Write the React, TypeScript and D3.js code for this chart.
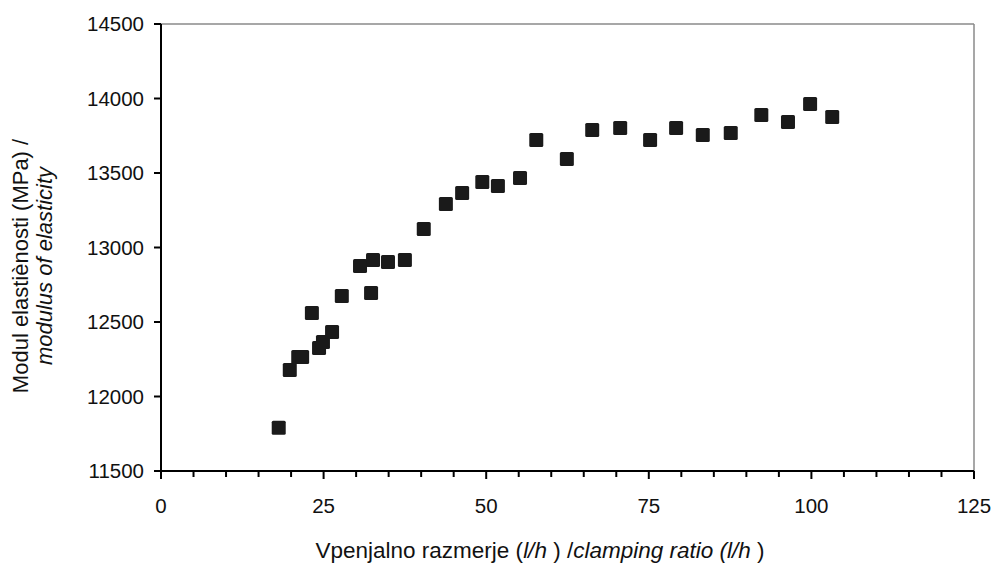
import React from "react";
import * as d3 from "d3";

const clampingRatio = [18.1, 19.8, 21.1, 21.7, 23.2, 24.3, 24.9, 26.3, 27.8, 30.6, 32.3, 32.6, 34.9, 37.5, 40.4, 43.8, 46.3, 49.4, 51.8, 55.2, 57.7, 62.4, 66.3, 70.6, 75.2, 79.2, 83.3, 87.6, 92.3, 96.4, 99.8, 103.2];
const modulus = [11790, 12178, 12265, 12265, 12560, 12325, 12366, 12433, 12674, 12876, 12695, 12916, 12903, 12916, 13124, 13292, 13366, 13440, 13413, 13466, 13721, 13594, 13789, 13802, 13721, 13802, 13755, 13768, 13889, 13842, 13963, 13876];
const xMajorTicks = [0, 25, 50, 75, 100, 125];
const yTicks = [11500, 12000, 12500, 13000, 13500, 14000, 14500];

const W = 996;
const H = 569;
const left = 161;
const right = 974;
const top = 24;
const bottom = 471;
const FONT = "'Liberation Sans', Arial, sans-serif";

export default function App() {
  const x = d3.scaleLinear().domain([0, 125]).range([left, right]);
  const y = d3.scaleLinear().domain([11500, 14500]).range([bottom, top]);
  const minor = d3.range(0, 126, 5).filter((v) => v % 25 !== 0);
  const size = 14;
  return (
    <svg width={W} height={H} style={{ position: "absolute", left: 0, top: 0, background: "#fff" }} fontFamily={FONT}>
      <rect x={0} y={0} width={W} height={H} fill="#fff" />
      {/* frame */}
      <line x1={left} x2={right} y1={top} y2={top} stroke="#8a8a8a" strokeWidth={1.5} />
      <line x1={right} x2={right} y1={top} y2={bottom} stroke="#8a8a8a" strokeWidth={1.5} />
      {/* axes */}
      <line x1={left} x2={right} y1={bottom} y2={bottom} stroke="#000" strokeWidth={2} />
      <line x1={left} x2={left} y1={top} y2={bottom} stroke="#000" strokeWidth={2} />
      {xMajorTicks.map((t) => (
        <g key={"xt" + t}>
          <line x1={x(t)} x2={x(t)} y1={bottom} y2={bottom + 8} stroke="#000" strokeWidth={2} />
          <text x={x(t)} y={bottom + 42} textAnchor="middle" fontSize={20.5} fill="#111">{t}</text>
        </g>
      ))}
      {minor.map((t) => (
        <line key={"xm" + t} x1={x(t)} x2={x(t)} y1={bottom} y2={bottom + 6} stroke="#000" strokeWidth={2} />
      ))}
      {yTicks.map((t) => (
        <g key={"yt" + t}>
          <line x1={left - 7} x2={left} y1={y(t)} y2={y(t)} stroke="#000" strokeWidth={2} />
          <text x={left - 17} y={y(t) + 7} textAnchor="end" fontSize={20.5} fill="#111">{t}</text>
        </g>
      ))}
      {clampingRatio.map((v, i) => (
        <rect key={"p" + i} x={x(v) - size / 2} y={y(modulus[i]) - size / 2} width={size} height={size} rx={1.5} fill="#1a1a1a" />
      ))}
      <text x={540} y={558} textAnchor="middle" fontSize={22.5} fill="#111">
        Vpenjalno razmerje (<tspan fontStyle="italic">l/h</tspan> ) /<tspan fontStyle="italic">clamping ratio (l/h</tspan> )
      </text>
      <g transform="translate(28,266) rotate(-90)">
        <text x={0} y={0} textAnchor="middle" fontSize={22} fill="#111">Modul elastiènosti (MPa) /</text>
        <text x={0} y={24} textAnchor="middle" fontSize={22} fontStyle="italic" fill="#111">modulus of elasticity</text>
      </g>
    </svg>
  );
}
